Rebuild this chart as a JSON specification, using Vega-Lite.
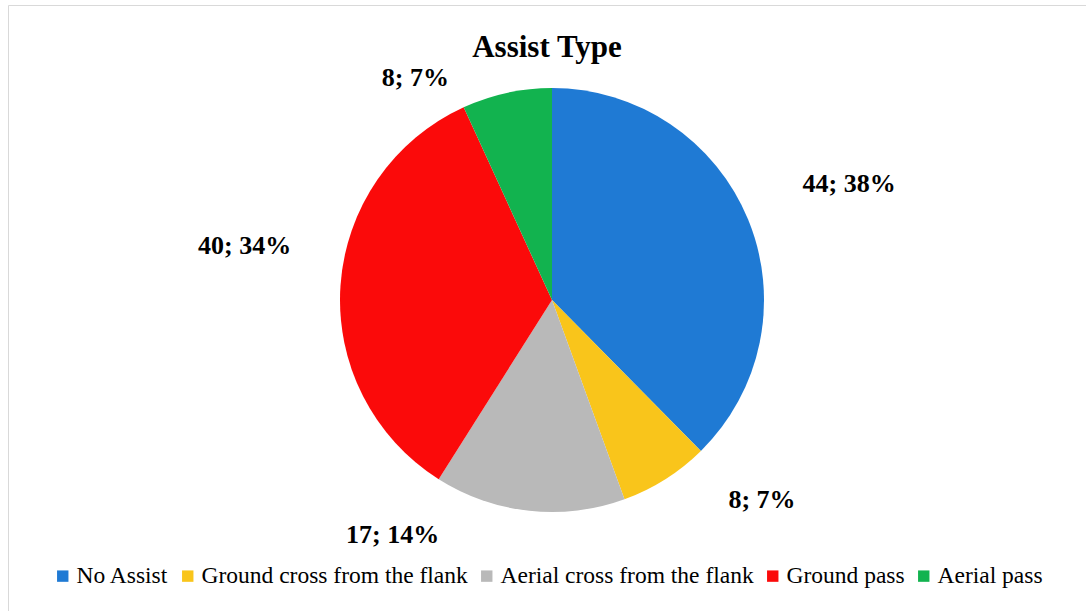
{
  "$schema": "https://vega.github.io/schema/vega-lite/v6.json",
  "width": 1078,
  "height": 606,
  "autosize": {"type": "none"},
  "padding": {"left": 8, "top": 5, "right": 0, "bottom": 0},
  "background": "white",
  "view": {"stroke": "#d9d9d9", "strokeWidth": 1, "fill": "white"},
  "config": {
    "view": {"stroke": "#d9d9d9", "strokeWidth": 1},
    "font": "Liberation Serif",
    "legend": {"labelFont": "Liberation Serif"}
  },
  "title": {
    "text": "Assist Type",
    "font": "Liberation Serif",
    "fontSize": 31,
    "fontWeight": "bold",
    "color": "#000000",
    "anchor": "middle",
    "offset": -59
  },
  "data": {
    "values": [
      {"category": "No Assist", "value": 44, "label": "44; 38%"},
      {"category": "Ground cross from the flank", "value": 8, "label": "8; 7%"},
      {"category": "Aerial cross from the flank", "value": 17, "label": "17; 14%"},
      {"category": "Ground pass", "value": 40, "label": "40; 34%"},
      {"category": "Aerial pass", "value": 8, "label": "8; 7%"}
    ]
  },
  "transform": [
    {"window": [{"op": "row_number", "as": "idx"}]},
    {"stack": "value", "groupby": [], "sort": [{"field": "idx", "order": "ascending"}], "as": ["start", "end"]},
    {"calculate": "(datum.start + datum.end) / 2", "as": "mid"}
  ],
  "layer": [
    {
      "mark": {"type": "arc", "outerRadius": 212, "xOffset": 5, "yOffset": -8, "stroke": null},
      "encoding": {
        "theta": {"field": "start", "type": "quantitative", "scale": {"domain": [0, 117]}},
        "theta2": {"field": "end"},
        "color": {
          "field": "category",
          "type": "nominal",
          "sort": ["No Assist", "Ground cross from the flank", "Aerial cross from the flank", "Ground pass", "Aerial pass"],
          "scale": {
            "domain": ["No Assist", "Ground cross from the flank", "Aerial cross from the flank", "Ground pass", "Aerial pass"],
            "range": ["#1f7ad4", "#f9c51b", "#b9b9b9", "#fb0a0a", "#12b34f"]
          },
          "legend": {
            "title": null,
            "orient": "none",
            "direction": "horizontal",
            "legendX": 43,
            "legendY": 559,
            "symbolType": "square",
            "symbolSize": 130,
            "symbolStrokeWidth": 0,
            "labelFont": "Liberation Serif",
            "labelFontSize": 23.5,
            "labelColor": "#000000",
            "labelLimit": 500,
            "labelOffset": 2,
            "columnPadding": 7
          }
        }
      }
    },
    {
      "transform": [{"filter": "datum.category == 'No Assist'"}],
      "mark": {"type": "text", "radius": 318, "xOffset": 5, "yOffset": -8, "dx": 3, "dy": 5, "font": "Liberation Serif", "fontSize": 26, "fontWeight": "bold", "color": "#000000", "align": "center", "baseline": "middle"},
      "encoding": {"theta": {"field": "mid", "type": "quantitative", "stack": null}, "text": {"field": "label"}}
    },
    {
      "transform": [{"filter": "datum.category == 'Ground cross from the flank'"}],
      "mark": {"type": "text", "radius": 290, "xOffset": 5, "yOffset": -8, "dx": 55, "dy": -45, "font": "Liberation Serif", "fontSize": 26, "fontWeight": "bold", "color": "#000000", "align": "center", "baseline": "middle"},
      "encoding": {"theta": {"field": "mid", "type": "quantitative", "stack": null}, "text": {"field": "label"}}
    },
    {
      "transform": [{"filter": "datum.category == 'Aerial cross from the flank'"}],
      "mark": {"type": "text", "radius": 284, "xOffset": 5, "yOffset": -8, "dx": -129, "dy": -47, "font": "Liberation Serif", "fontSize": 26, "fontWeight": "bold", "color": "#000000", "align": "center", "baseline": "middle"},
      "encoding": {"theta": {"field": "mid", "type": "quantitative", "stack": null}, "text": {"field": "label"}}
    },
    {
      "transform": [{"filter": "datum.category == 'Ground pass'"}],
      "mark": {"type": "text", "radius": 312, "xOffset": 5, "yOffset": -8, "dx": 4, "dy": -33, "font": "Liberation Serif", "fontSize": 26, "fontWeight": "bold", "color": "#000000", "align": "center", "baseline": "middle"},
      "encoding": {"theta": {"field": "mid", "type": "quantitative", "stack": null}, "text": {"field": "label"}}
    },
    {
      "transform": [{"filter": "datum.category == 'Aerial pass'"}],
      "mark": {"type": "text", "radius": 261, "xOffset": 5, "yOffset": -8, "dx": -81, "dy": 33, "font": "Liberation Serif", "fontSize": 26, "fontWeight": "bold", "color": "#000000", "align": "center", "baseline": "middle"},
      "encoding": {"theta": {"field": "mid", "type": "quantitative", "stack": null}, "text": {"field": "label"}}
    }
  ]
}
